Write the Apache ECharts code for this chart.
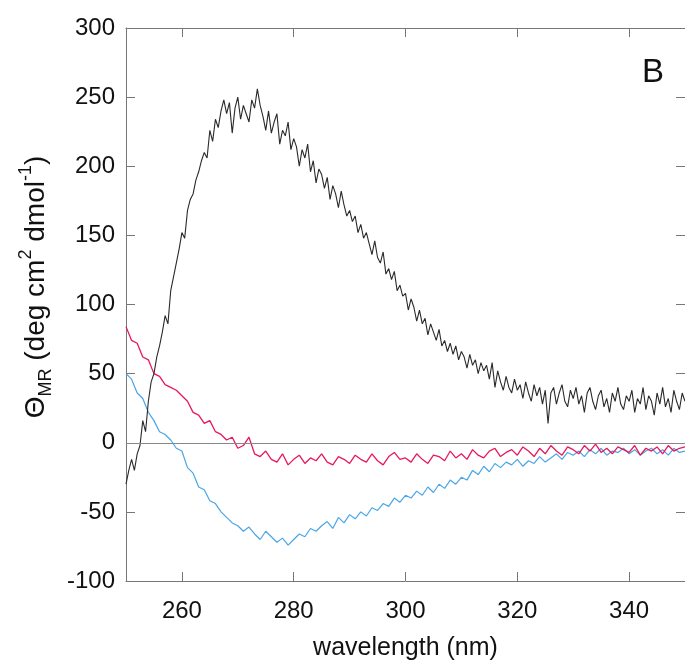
<!DOCTYPE html>
<html>
<head>
<meta charset="utf-8">
<script src="https://cdn.jsdelivr.net/npm/echarts@6/dist/echarts.min.js"></script>
<style>
html,body{margin:0;padding:0;background:#fff;}
#chart{width:685px;height:670px;}
</style>
</head>
<body>
<div id="chart"></div>
<script>
// Wavelength sampling (nm)
const wlStart = 250;
const blackStep = 0.5;
const colorStep = 1;
const xTicks = [260, 280, 300, 320, 340];
const yMin = -100, yMax = 300, yInterval = 50;

// Black trace (0.5 nm steps from 250 to 350 nm)
const blackVals = [
-30,-20,-12,-20,-8,-2,16,8,30,44,
50,62,70,80,92,86,110,120,130,140,
152,148,168,176,180,190,196,204,210,206,
226,218,234,228,240,248,238,246,224,242,
250,234,244,238,232,248,242,256,244,236,
226,240,224,232,238,216,226,222,232,212,
220,214,200,212,206,216,196,204,188,198,
194,184,192,176,186,180,170,182,172,164,
168,160,164,152,158,148,152,144,136,146,
134,130,138,122,126,118,124,110,114,106,
108,96,104,98,88,96,86,90,78,86,
80,74,82,70,74,66,72,64,70,60,
66,62,54,64,56,60,50,58,52,56,
46,58,40,52,44,38,48,40,36,46,
38,42,32,44,36,30,42,34,40,28,
38,14,36,40,28,36,42,30,26,38,
32,40,28,34,22,36,40,30,24,34,
38,26,32,22,36,30,40,28,24,34,
30,38,22,32,28,40,24,34,30,20,
36,28,40,26,32,22,38,30,24,36,
30];

// Red (pink) trace (1 nm steps)
const redVals = [
84,74,72,62,60,50,48,42,40,38,
34,30,22,20,14,16,8,6,2,4,
-4,-2,4,-8,-10,-6,-12,-14,-8,-16,
-12,-9,-15,-11,-13,-8,-14,-16,-10,-12,
-15,-9,-12,-14,-8,-13,-16,-10,-7,-12,
-11,-14,-8,-12,-15,-9,-10,-13,-6,-11,
-8,-12,-5,-9,-11,-6,-4,-10,-7,-5,
-9,-3,-6,-10,-4,-8,-2,-6,-9,-3,
-5,-8,-2,-6,-1,-7,-4,-8,-3,-5,
-7,-2,-9,-4,-6,-3,-8,-2,-6,-4,
-3];

// Blue trace (1 nm steps)
const blueVals = [
50,46,36,32,22,16,8,6,2,-4,
-6,-18,-22,-32,-34,-42,-44,-50,-54,-58,
-60,-64,-61,-66,-70,-64,-68,-72,-69,-74,
-70,-66,-68,-62,-64,-60,-57,-62,-54,-58,
-52,-55,-50,-53,-47,-49,-44,-46,-40,-43,
-38,-40,-35,-38,-32,-36,-30,-33,-27,-30,
-25,-27,-20,-23,-17,-21,-15,-18,-14,-16,
-12,-17,-13,-15,-10,-14,-11,-8,-12,-7,
-9,-6,-10,-5,-8,-4,-9,-6,-7,-4,
-8,-5,-9,-6,-4,-8,-5,-9,-4,-7,
-6];

const toPairs = (vals, step) => vals.map((v, i) => [wlStart + i * step, v]);

const FONT = "'Liberation Sans', Arial, Helvetica, sans-serif";
const axisColor = '#777';
const labelStyle = { fontFamily: FONT, fontSize: 24, color: '#111' };
const lineOf = () => ({ show: true, onZero: false, lineStyle: { color: axisColor, width: 1 } });

const chart = echarts.init(document.getElementById('chart'), null, { renderer: 'canvas' });
chart.setOption({
  animation: false,
  backgroundColor: '#fff',
  grid: { left: 126, top: 28, right: -1, bottom: 89, containLabel: false },
  xAxis: [{
    type: 'value', min: 250, max: 350, position: 'bottom',
    name: 'wavelength (nm)', nameLocation: 'middle', nameGap: 55,
    nameTextStyle: { fontFamily: FONT, fontSize: 25, color: '#111' },
    axisLine: lineOf(),
    axisTick: { show: true, inside: true, length: 9, customValues: xTicks, lineStyle: { color: axisColor } },
    axisLabel: Object.assign({ margin: 18, customValues: xTicks }, labelStyle),
    splitLine: { show: false }
  }, {
    type: 'value', min: 250, max: 350, position: 'top',
    axisLine: lineOf(),
    axisTick: { show: true, inside: true, length: 9, customValues: xTicks, lineStyle: { color: axisColor } },
    axisLabel: { show: false },
    splitLine: { show: false }
  }],
  yAxis: [{
    type: 'value', min: yMin, max: yMax, interval: yInterval, position: 'left',
    axisLine: lineOf(),
    axisTick: { show: true, inside: true, length: 9, lineStyle: { color: axisColor } },
    axisLabel: Object.assign({ margin: 11 }, labelStyle),
    splitLine: { show: false }
  }, {
    type: 'value', min: yMin, max: yMax, interval: yInterval, position: 'right',
    axisLine: lineOf(),
    axisTick: { show: true, inside: true, length: 9, lineStyle: { color: axisColor } },
    axisLabel: { show: false },
    splitLine: { show: false }
  }],
  graphic: [{
    type: 'text', x: 36, y: 287, rotation: Math.PI / 2,
    style: {
      text: '{a|Θ}{sub|MR}{a| (deg cm}{sup|2}{a| dmol}{sup|-1}{a|)}',
      align: 'center', verticalAlign: 'middle',
      fontFamily: FONT, fill: '#111',
      rich: {
        a: { fontFamily: FONT, fontSize: 28, fill: '#111', lineHeight: 38, verticalAlign: 'middle' },
        sub: { fontFamily: FONT, fontSize: 18, fill: '#111', lineHeight: 38, verticalAlign: 'bottom' },
        sup: { fontFamily: FONT, fontSize: 18, fill: '#111', lineHeight: 38, verticalAlign: 'top' }
      }
    }
  }, {
    type: 'text', x: 653, y: 73,
    style: { text: 'B', fontFamily: FONT, fontSize: 33, fill: '#111', align: 'center', verticalAlign: 'middle' }
  }],
  series: [{
    name: 'blue', type: 'line', data: toPairs(blueVals, colorStep),
    showSymbol: false, symbol: 'none',
    lineStyle: { color: '#4aa6e6', width: 1.2 }, z: 2
  }, {
    name: 'red', type: 'line', data: toPairs(redVals, colorStep),
    showSymbol: false, symbol: 'none',
    lineStyle: { color: '#e8185c', width: 1.3 }, z: 3
  }, {
    name: 'black', type: 'line', data: toPairs(blackVals, blackStep),
    showSymbol: false, symbol: 'none',
    lineStyle: { color: '#2a2a2a', width: 1.1 }, z: 4,
    markLine: {
      silent: true, symbol: 'none', label: { show: false },
      lineStyle: { color: '#888', width: 1, type: 'solid' },
      data: [{ yAxis: 0 }]
    }
  }]
});
</script>
</body>
</html>
